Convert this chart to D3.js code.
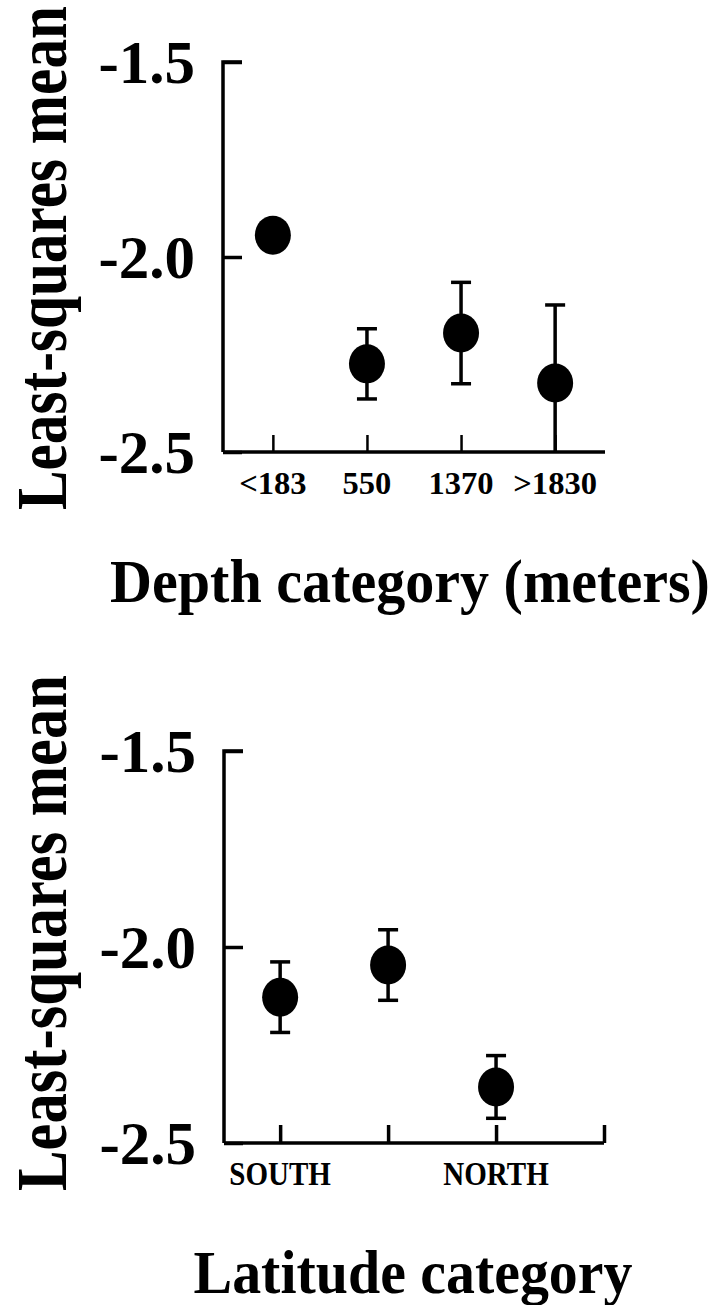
<!DOCTYPE html>
<html>
<head>
<meta charset="utf-8">
<script src="https://cdn.jsdelivr.net/npm/d3@7"></script>
<style>
  html, body { margin: 0; padding: 0; background: #fff; }
  svg { display: block; }
  text { font-family: "Liberation Serif", "Times New Roman", Times, serif; font-weight: bold; fill: #000; }
</style>
</head>
<body>
<svg id="chart" width="717" height="1305"></svg>
<script>
// Depth panel
const depthCategories = ["<183", "550", "1370", ">1830"];
const depthMeans      = [-1.944, -2.274, -2.195, -2.323];
const depthErrors     = [null, 0.09, 0.13, 0.20];

// Latitude panel (middle category carries no label)
const latitudeCategories = ["SOUTH", "", "NORTH"];
const latitudeMeans      = [-2.128, -2.046, -2.357];
const latitudeErrors     = [0.09, 0.09, 0.08];

// Shared y axis
const yDomain = [-2.5, -1.5];
const yTickValues = [-2.5, -2.0, -1.5];
const yTickLabels = ["-2.5", "-2.0", "-1.5"];
const yTitle = "Least-squares mean";

const svg = d3.select("#chart");

// place a text at (x, y), optionally rotated, and scale it along its baseline to a given length
function fitText(g, str, x, y, angle, size, length) {
  const t = g.append("text")
    .attr("text-anchor", "middle")
    .attr("font-size", size)
    .text(str);
  const w = t.node().getComputedTextLength();
  const k = w > 0 ? length / w : 1;
  t.attr("transform", `translate(${x},${y}) rotate(${angle}) scale(${k},1)`);
  return t;
}

function drawPanel(opts) {
  const g = svg.append("g");
  const n = opts.categories.length;
  const x = d3.scaleLinear().domain(opts.xDomain).range([opts.left, opts.right]);
  const y = d3.scaleLinear().domain(yDomain).range([opts.bottom, opts.top]);
  const yMin = yDomain[0];

  // error bars (clipped at the x axis)
  const bars = g.append("g").attr("stroke", "#000").attr("stroke-width", 3.5);
  opts.means.forEach((m, i) => {
    const e = opts.errors[i];
    if (e == null) return;
    const cx = x(i + 1);
    const hi = m + e, lo = Math.max(m - e, yMin);
    bars.append("line").attr("x1", cx).attr("x2", cx).attr("y1", y(hi)).attr("y2", y(lo));
    bars.append("line").attr("x1", cx - 10).attr("x2", cx + 10).attr("y1", y(hi)).attr("y2", y(hi));
    if (m - e > yMin) {
      bars.append("line").attr("x1", cx - 10).attr("x2", cx + 10).attr("y1", y(m - e)).attr("y2", y(m - e));
    }
  });

  // points
  g.append("g").selectAll("ellipse")
    .data(opts.means)
    .join("ellipse")
    .attr("cx", (d, i) => x(i + 1))
    .attr("cy", d => y(d))
    .attr("rx", 18)
    .attr("ry", 19.5)
    .attr("fill", "#000");

  // y axis: inward ticks
  const yAxis = d3.axisRight(y).tickValues(yTickValues).tickSize(19).tickFormat("");
  const ya = g.append("g").attr("transform", `translate(${opts.left},0)`).call(yAxis);
  ya.select(".domain").attr("d", `M19,${opts.top}H0V${opts.bottom}`)
    .attr("stroke-width", 3.5).attr("fill", "none");
  ya.selectAll(".tick line").attr("stroke-width", 3.5);

  g.append("g").selectAll("text")
    .data(yTickValues)
    .join("text")
    .attr("x", opts.left - 28)
    .attr("y", d => y(d) + 21)
    .attr("text-anchor", "end")
    .attr("font-size", 61)
    .text((d, i) => yTickLabels[i]);

  // x axis: upward ticks
  const xTicks = d3.range(1, n + 1).concat(opts.endTick ? [n + 1] : []);
  const xAxis = d3.axisTop(x).tickValues(xTicks).tickSize(opts.xTickLen).tickFormat("");
  const xa = g.append("g").attr("transform", `translate(0,${opts.bottom})`).call(xAxis);
  xa.select(".domain").attr("d", `M${opts.left},0H${opts.right}`)
    .attr("stroke-width", 3.5).attr("fill", "none");
  xa.selectAll(".tick line").attr("stroke-width", opts.xTickWidth);

  const labels = g.append("g");
  opts.categories.forEach((c, i) => {
    if (!c) return;
    const t = labels.append("text")
      .attr("text-anchor", "middle")
      .attr("font-size", opts.labelSize)
      .text(c);
    t.attr("transform", `translate(${x(i + 1)},${opts.bottom + opts.labelDy}) scale(${opts.labelSqueeze},1)`);
  });

  // axis titles
  fitText(g, yTitle, opts.yTitleX, opts.yTitleY, -90, 72, opts.yTitleLen);
  fitText(g, opts.xTitle, opts.xTitleX, opts.xTitleY, 0, 62, opts.xTitleLen);
}

drawPanel({
  categories: depthCategories, means: depthMeans, errors: depthErrors,
  xDomain: [0.47, 4.53], left: 223, right: 605, top: 62, bottom: 452,
  xTickLen: 17, xTickWidth: 2.5, endTick: false,
  labelSize: 31, labelDy: 42, labelSqueeze: 1.05,
  yTitleX: 66, yTitleY: 258, yTitleLen: 504,
  xTitle: "Depth category (meters)", xTitleX: 410, xTitleY: 602, xTitleLen: 600
});

drawPanel({
  categories: latitudeCategories, means: latitudeMeans, errors: latitudeErrors,
  xDomain: [0.48, 4], left: 224, right: 604, top: 751, bottom: 1143,
  xTickLen: 18, xTickWidth: 3.5, endTick: true,
  labelSize: 33, labelDy: 42, labelSqueeze: 0.88,
  yTitleX: 66, yTitleY: 933, yTitleLen: 516,
  xTitle: "Latitude category", xTitleX: 413, xTitleY: 1293, xTitleLen: 439
});
</script>
</body>
</html>
